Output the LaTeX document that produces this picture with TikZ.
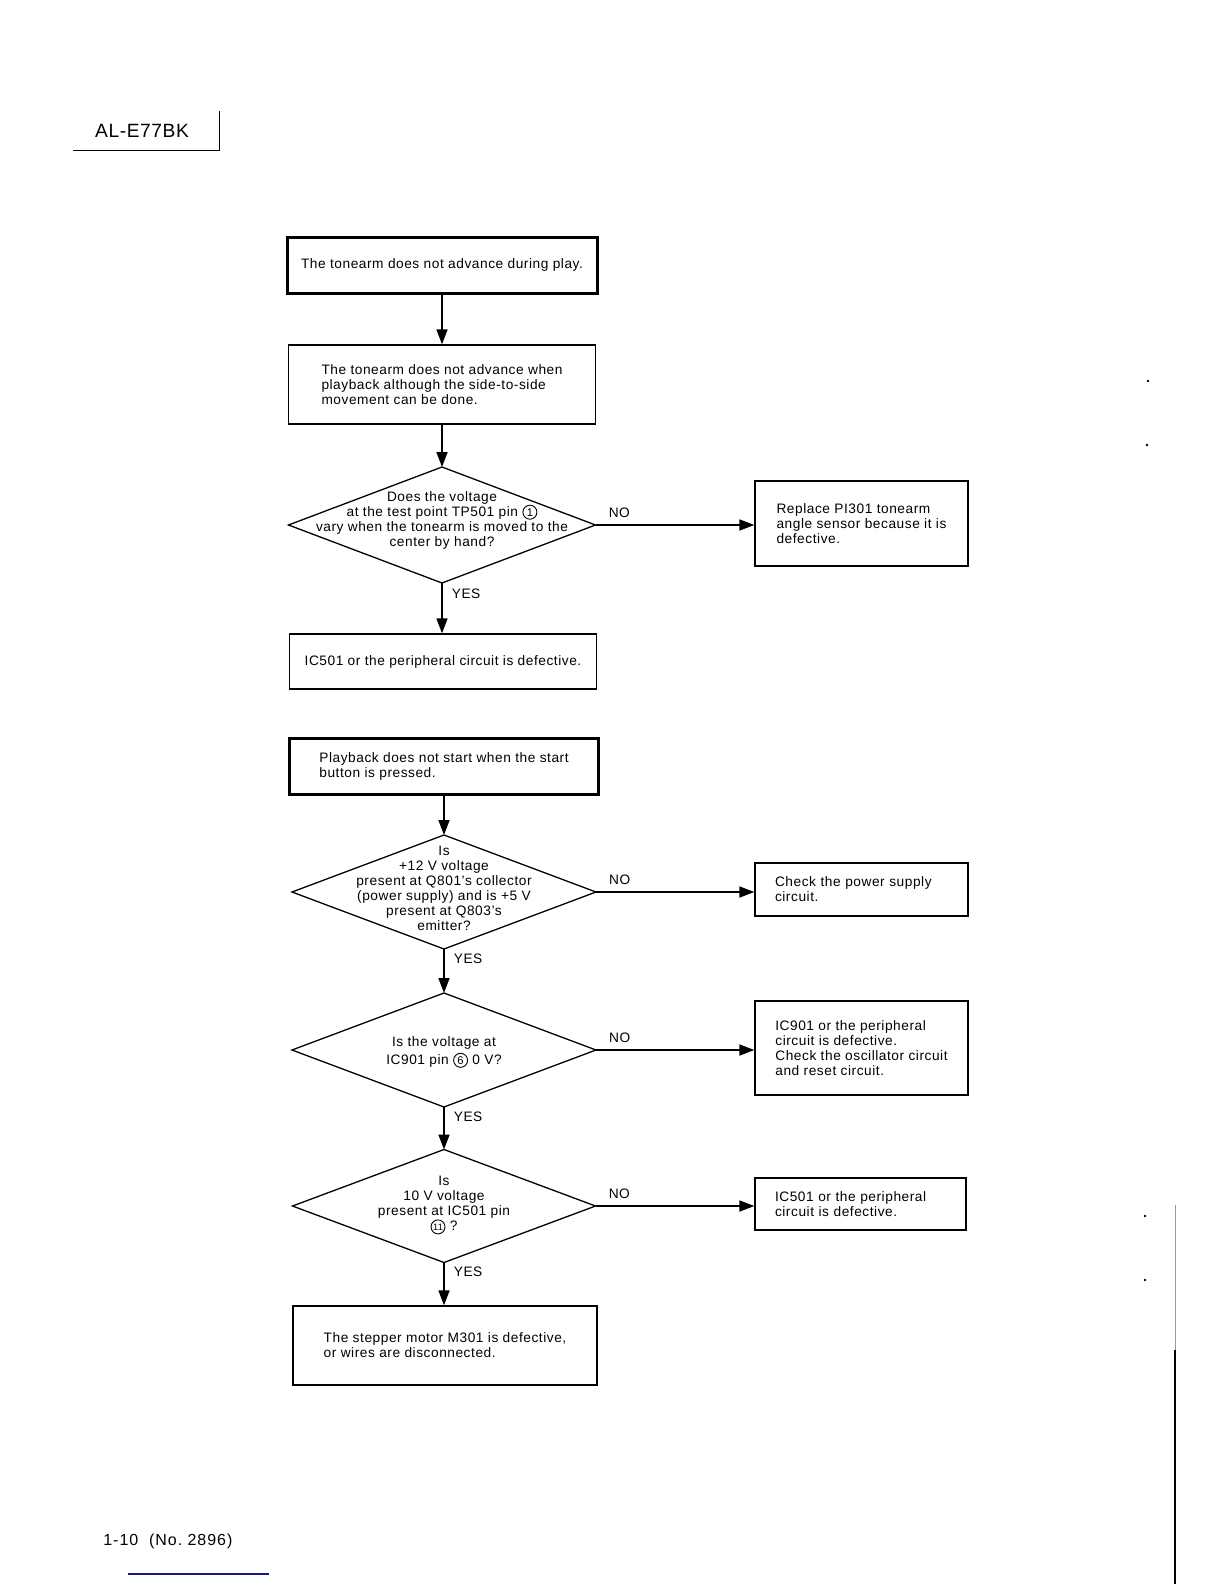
\documentclass[tikz,border=0pt]{standalone}
\usepackage{fontspec}
\setmainfont{Liberation Sans}
\newfontfamily\bodyfont[LetterSpace=4]{Liberation Sans}
\newfontfamily\headfont[LetterSpace=3]{Liberation Sans}
\newfontfamily\footfont[LetterSpace=6]{Liberation Sans}
\usetikzlibrary{arrows.meta,shapes.geometric}
\newcommand{\cnum}[2][5.6]{\tikz[baseline=(cn.base)]\node[draw,circle,inner sep=0pt,minimum size=7pt,line width=0.45pt,font=\fontsize{#1}{#1}\selectfont](cn){#2};}
\tikzset{
  txt/.style={font=\bodyfont\fontsize{6.85}{7.5}\selectfont},
  box/.style={draw,line width=0.65pt,align=left,inner sep=0pt,txt},
  thickbox/.style={box,line width=1.5pt},
  dia/.style={draw,diamond,line width=0.65pt,inner sep=0pt,outer sep=0pt},
  dtext/.style={align=center,txt,inner sep=0pt},
  arr/.style={-{Triangle[length=7.5pt,width=5.5pt]},line width=0.85pt},
  lab/.style={txt,inner sep=0pt},
  yes/.style={lab,anchor=west,xshift=4.5pt,pos=0.22},
  no/.style={lab,above=3.5pt,pos=0.15},
}
\begin{document}
\begin{tikzpicture}[x=0.5pt,y=-0.5pt]
\useasboundingbox (0,0) rectangle (1224,1584);
% header
\node[font=\headfont\fontsize{9.6}{10}\selectfont,inner sep=0pt] (hdr) at (142,131) {AL-E77BK};
\coordinate (hl) at (73,150);
\coordinate (hc) at (219,150);
\coordinate (ht) at (219,111);
\draw[line width=0.5pt] (hl) -- (hc) -- (ht);

% first chart
\node[thickbox,minimum width=155pt,minimum height=28pt,align=center] (b1) at (442,265) {The tonearm does not advance during play.};
\node[box,minimum width=153.5pt,minimum height=39.5pt] (b2) at (442,384.5) {The tonearm does not advance when\\playback although the side-to-side\\movement can be done.};
\node[dia,minimum width=153.5pt,minimum height=58pt] (d1) at (442,525) {};
\node[dtext] (d1t) at (442,520) {Does the voltage\\at the test point TP501 pin \cnum{1}\\vary when the tonearm is moved to the\\center by hand?};
\node[box,minimum width=106.5pt,minimum height=42.5pt] (r1) at (861.5,523.5) {Replace PI301 tonearm\\angle sensor because it is\\defective.};
\node[box,minimum width=153.5pt,minimum height=27.5pt,align=center] (b3) at (443,661.5) {IC501 or the peripheral circuit is defective.};

\draw[arr] (b1.south) -- (b1.south |- b2.north);
\draw[arr] (b2.south) -- (b2.south |- d1.north);
\draw[arr] (d1.east) -- node[no]{NO} (d1.east -| r1.west);
\draw[arr] (d1.south) -- node[yes]{YES} (d1.south |- b3.north);

% second chart
\node[thickbox,minimum width=154.5pt,minimum height=28pt] (b4) at (444,766) {Playback does not start when the start\\button is pressed.};
\node[dia,minimum width=152pt,minimum height=57pt] (d2) at (444,892) {};
\node[dtext] (d2t) at (444,888) {Is\\+12 V voltage\\present at Q801’s collector\\(power supply) and is +5 V\\present at Q803’s\\emitter?};
\node[box,minimum width=106.5pt,minimum height=26.5pt,text width=86.5pt,inner xsep=10pt] (r2) at (861.5,889.5) {Check the power supply\\circuit.};
\node[dia,minimum width=152pt,minimum height=57pt] (d3) at (444,1050) {};
\node[dtext,font=\bodyfont\fontsize{6.85}{9}\selectfont] (d3t) at (444,1052) {Is the voltage at\\IC901 pin \cnum{6} 0 V?};
\node[box,minimum width=106.5pt,minimum height=47pt] (r3) at (861.5,1048) {IC901 or the peripheral\\circuit is defective.\\Check the oscillator circuit\\and reset circuit.};
\node[dia,minimum width=151.5pt,minimum height=56.5pt] (d4) at (444,1206) {};
\node[dtext] (d4t) at (444,1205) {Is\\10 V voltage\\present at IC501 pin\\\cnum[4.6]{11} ?};
\node[box,minimum width=105.5pt,minimum height=26pt,text width=85.5pt,inner xsep=10pt] (r4) at (860.5,1204) {IC501 or the peripheral\\circuit is defective.};
\node[box,minimum width=152pt,minimum height=39.5pt] (b5) at (445,1345.5) {The stepper motor M301 is defective,\\or wires are disconnected.};

\draw[arr] (b4.south) -- (b4.south |- d2.north);
\draw[arr] (d2.east) -- node[no]{NO} (d2.east -| r2.west);
\draw[arr] (d2.south) -- node[yes]{YES} (d2.south |- d3.north);
\draw[arr] (d3.east) -- node[no]{NO} (d3.east -| r3.west);
\draw[arr] (d3.south) -- node[yes]{YES} (d3.south |- d4.north);
\draw[arr] (d4.east) -- node[no]{NO} (d4.east -| r4.west);
\draw[arr] (d4.south) -- node[yes]{YES} (d4.south |- b5.north);

% footer
\node[font=\footfont\fontsize{8}{9}\selectfont,anchor=west,inner sep=0pt] (ftr) at (103,1541) {1-10\ \ (No.\ 2896)};
\coordinate (bl1) at (128,1574);
\coordinate (bl2) at (269,1574);
\draw[line width=0.6pt,color={rgb,255:red,20;green,20;blue,150}] (bl1) -- (bl2);

% scan marks at right margin
\fill (1148,381) circle (1.3);
\fill (1147,445) circle (1.3);
\fill (1145,1216) circle (1.3);
\fill (1145,1280) circle (1.3);
\coordinate (vt) at (1175,1205);
\coordinate (vm) at (1175,1350);
\coordinate (vb) at (1175,1584);
\draw[line width=0.4pt,black!40] (vt) -- (vm);
\draw[line width=0.8pt] (vm) -- (vb);
\end{tikzpicture}
\end{document}
